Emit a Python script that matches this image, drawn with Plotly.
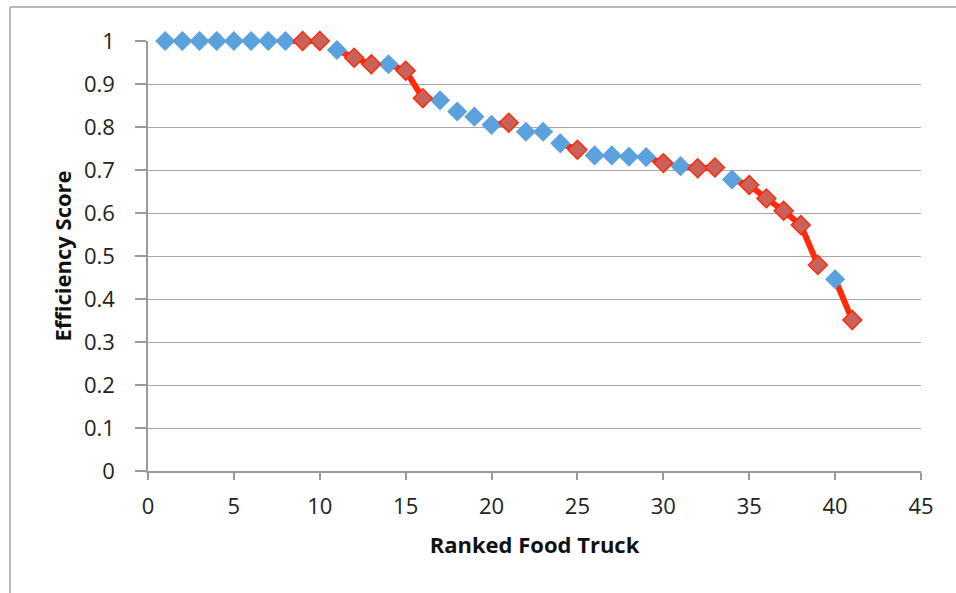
import plotly.graph_objects as go

ranks = list(range(1, 42))
scores = [1.0, 1.0, 1.0, 1.0, 1.0, 1.0, 1.0, 1.0, 1.0, 1.0,
          0.979, 0.961, 0.946, 0.946, 0.931, 0.867, 0.862, 0.836, 0.824, 0.805,
          0.810, 0.789, 0.789, 0.762, 0.747, 0.734, 0.734, 0.731, 0.730, 0.716,
          0.709, 0.704, 0.706, 0.678, 0.665, 0.634, 0.605, 0.572, 0.479, 0.446,
          0.351]
# 1 = highlighted (red) truck, 0 = regular (blue)
highlight = [0, 0, 0, 0, 0, 0, 0, 0, 1, 1,
             0, 1, 1, 0, 1, 1, 0, 0, 0, 0,
             1, 0, 0, 0, 1, 0, 0, 0, 0, 1,
             0, 1, 1, 0, 1, 1, 1, 1, 1, 0,
             1]

x_title = "Ranked Food Truck"
y_title = "Efficiency Score"

BLUE = "#5BA1DD"
RED_FILL = "#C9625B"
RED_LINE = "#FF2A0A"

# red line segments leading into each highlighted point
seg_x, seg_y = [], []
for i in range(1, len(ranks)):
    if highlight[i]:
        seg_x += [ranks[i - 1], ranks[i], None]
        seg_y += [scores[i - 1], scores[i], None]

bx = [r for r, h in zip(ranks, highlight) if not h]
by = [s for s, h in zip(scores, highlight) if not h]
rx = [r for r, h in zip(ranks, highlight) if h]
ry = [s for s, h in zip(scores, highlight) if h]

fig = go.Figure()
fig.add_trace(go.Scatter(x=seg_x, y=seg_y, mode="lines",
                         line=dict(color=RED_LINE, width=6),
                         hoverinfo="skip", showlegend=False, cliponaxis=False))
fig.add_trace(go.Scatter(x=bx, y=by, mode="markers",
                         marker=dict(symbol="diamond", size=15.5, color=BLUE,
                                     line=dict(color=BLUE, width=0)),
                         showlegend=False, cliponaxis=False))
fig.add_trace(go.Scatter(x=rx, y=ry, mode="markers",
                         marker=dict(symbol="diamond", size=14.5, color=RED_FILL,
                                     line=dict(color=RED_LINE, width=1.5)),
                         showlegend=False, cliponaxis=False))

font_family = "'Open Sans', sans-serif"

fig.update_layout(
    width=956, height=593,
    margin=dict(l=148, r=35, t=41, b=122),
    paper_bgcolor="white", plot_bgcolor="white",
    font=dict(family=font_family, size=22, color="#222222"),
    xaxis=dict(range=[0, 45], dtick=5, tick0=0, showgrid=False,
               showline=True, linecolor="#9A9A9A", linewidth=1.5,
               ticks="outside", ticklen=7, tickcolor="#9A9A9A", tickwidth=1.5,
               zeroline=False, ticklabelstandoff=8,
               title=dict(text="<b>" + x_title + "</b>", standoff=18,
                          font=dict(size=22, color="#111111"))),
    yaxis=dict(range=[0, 1], dtick=0.1, tick0=0, showgrid=True,
               gridcolor="#A8A8A8", gridwidth=1.2,
               showline=True, linecolor="#9A9A9A", linewidth=1.5,
               ticks="outside", ticklen=11, tickcolor="#9A9A9A", tickwidth=1.5,
               zeroline=False, ticklabelstandoff=16,
               title=dict(text="<b>" + y_title + "</b>", standoff=6,
                          font=dict(size=22, color="#111111"))),
)

# outer chart frame (left and top edges)
fl = (10 - 148) / 773
ft = (471 - 7) / 430
fig.add_shape(type="line", xref="paper", yref="paper",
              x0=fl, x1=fl, y0=-0.4, y1=ft,
              line=dict(color="#A0A0A0", width=1.5))
fig.add_shape(type="line", xref="paper", yref="paper",
              x0=fl, x1=1.2, y0=ft, y1=ft,
              line=dict(color="#A0A0A0", width=1.5))

fig.write_html("out.html", config={"displayModeBar": False},
               post_script="document.body.style.margin='0';")
